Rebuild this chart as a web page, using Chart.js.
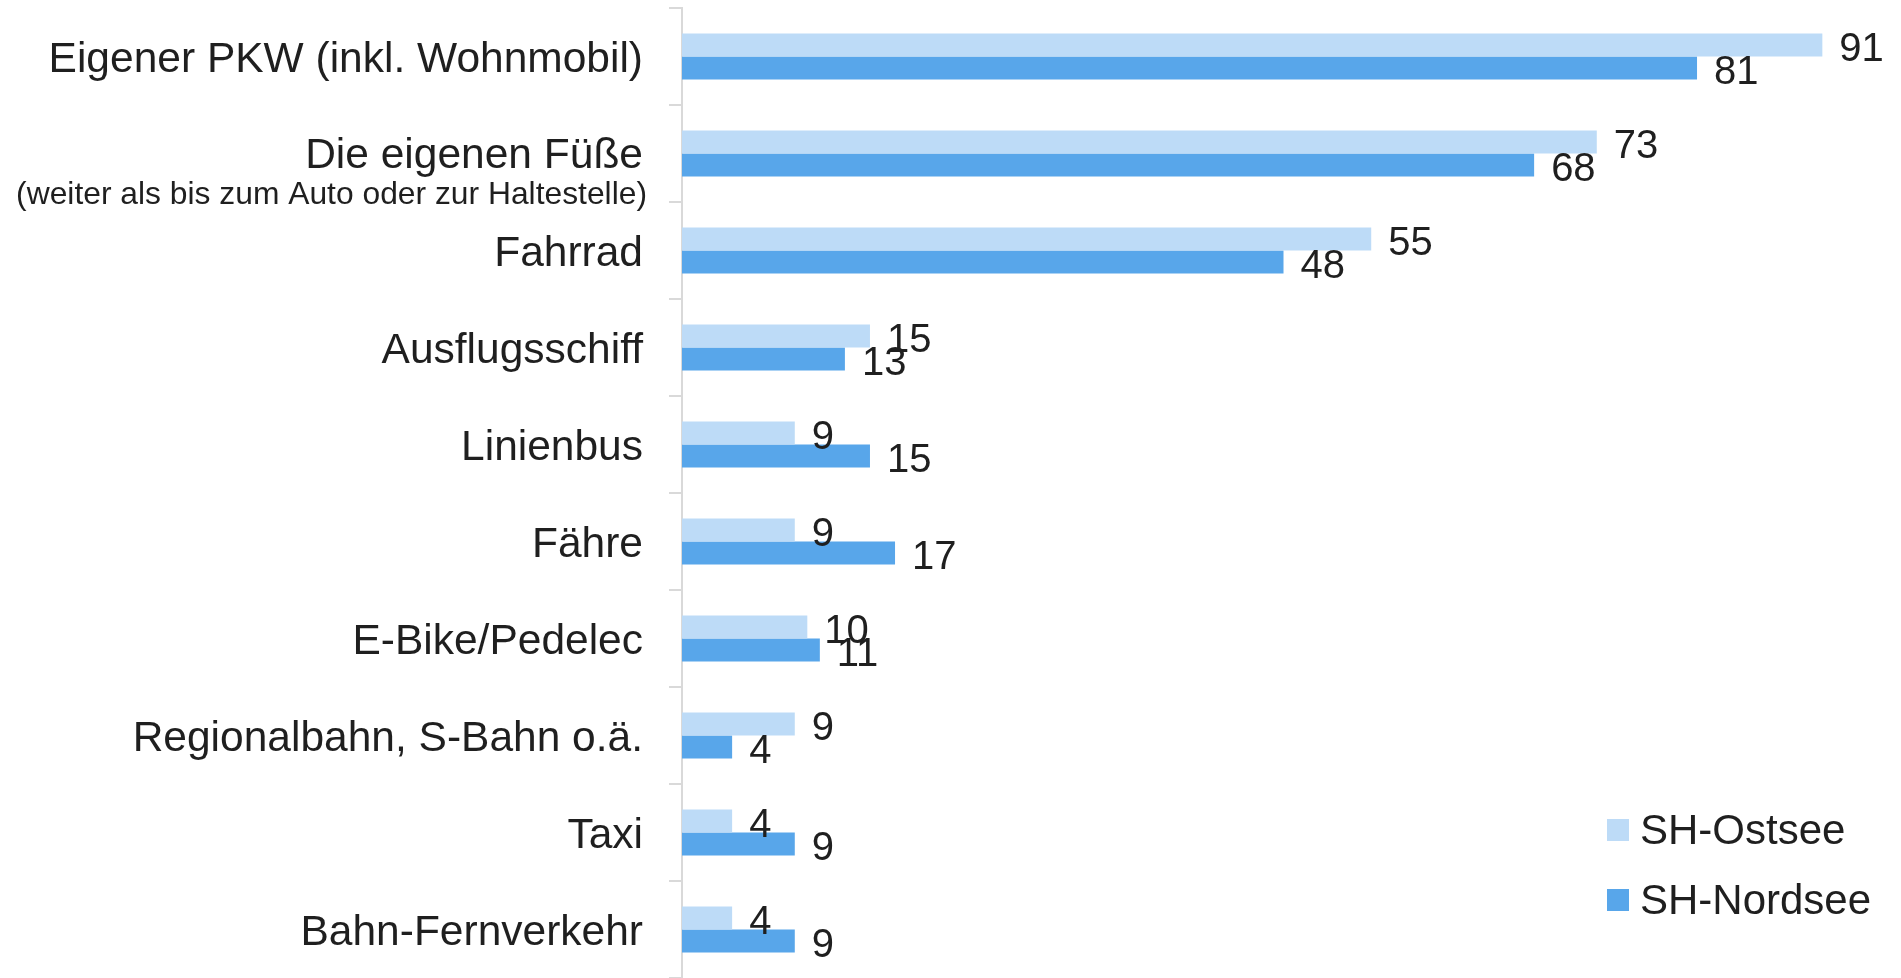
<!DOCTYPE html>
<html lang="de">
<head>
<meta charset="utf-8">
<title>Verkehrsmittel vor Ort</title>
<script src="https://cdn.jsdelivr.net/npm/chart.js@4/dist/chart.umd.min.js"></script>
<style>
    body { margin: 0; background: #fff; }
    #wrap { position: relative; width: 1901px; height: 978px; }
    #legend {
        position: absolute;
        left: 1607px;
        top: 806px;
        font-family: 'Liberation Sans', Arial, sans-serif;
        font-size: 42px;
        color: #1f1f1f;
    }
    .legend-item { display: flex; align-items: center; height: 48px; margin-bottom: 22px; }
    .legend-box { width: 22px; height: 22px; margin-right: 11px; }
</style>
</head>
<body>
<div id="wrap">
    <canvas id="chart" width="1901" height="978"></canvas>
    <div id="legend"></div>
</div>
<script>
// Data
const categories = [
    'Eigener PKW (inkl. Wohnmobil)',
    'Die eigenen Füße',
    'Fahrrad',
    'Ausflugsschiff',
    'Linienbus',
    'Fähre',
    'E-Bike/Pedelec',
    'Regionalbahn, S-Bahn o.ä.',
    'Taxi',
    'Bahn-Fernverkehr'
];
const subLabelIndex = 1;
const subLabel = '(weiter als bis zum Auto oder zur Haltestelle)';
const seriesNames = ['SH-Ostsee', 'SH-Nordsee'];
const ostseeValues = [91, 73, 55, 15, 9, 9, 10, 9, 4, 4];
const nordseeValues = [81, 68, 48, 13, 15, 17, 11, 4, 9, 9];
const seriesColors = ['#bddbf7', '#58a6ea'];

const FONT = "'Liberation Sans', Arial, sans-serif";
const TEXT_COLOR = '#1f1f1f';

// Value labels at the end of each bar
const valueLabels = {
    id: 'valueLabels',
    afterDatasetsDraw(chart) {
        const ctx = chart.ctx;
        ctx.save();
        ctx.font = '40px ' + FONT;
        ctx.fillStyle = TEXT_COLOR;
        ctx.textAlign = 'left';
        ctx.textBaseline = 'middle';
        chart.data.datasets.forEach((ds, i) => {
            const meta = chart.getDatasetMeta(i);
            meta.data.forEach((bar, j) => {
                ctx.fillText(String(ds.data[j]), bar.x + 17, bar.y + 5);
            });
        });
        ctx.restore();
    }
};

// Two-line category label with smaller second line
const subLabelPlugin = {
    id: 'subLabel',
    afterDraw(chart) {
        const ctx = chart.ctx;
        const y = chart.scales.y.getPixelForValue(subLabelIndex);
        const x = chart.chartArea.left - 37;
        ctx.save();
        ctx.fillStyle = TEXT_COLOR;
        ctx.textAlign = 'right';
        ctx.textBaseline = 'alphabetic';
        ctx.font = '42.5px ' + FONT;
        ctx.fillText(categories[subLabelIndex], x - 2, y + 14);
        ctx.font = '31.8px ' + FONT;
        ctx.fillText(subLabel, x + 2, y + 50);
        ctx.restore();
    }
};

const ctx = document.getElementById('chart').getContext('2d');
const chart = new Chart(ctx, {
    type: 'bar',
    data: {
        labels: categories,
        datasets: [
            { label: seriesNames[0], data: ostseeValues, backgroundColor: seriesColors[0] },
            { label: seriesNames[1], data: nordseeValues, backgroundColor: seriesColors[1] }
        ]
    },
    options: {
        indexAxis: 'y',
        responsive: false,
        animation: false,
        layout: { padding: { top: 8, right: 16, bottom: 0, left: 0 } },
        datasets: {
            bar: { categoryPercentage: 0.474, barPercentage: 1 }
        },
        plugins: {
            legend: { display: false },
            tooltip: { enabled: false }
        },
        scales: {
            x: {
                display: false,
                min: 0,
                max: 96
            },
            y: {
                afterFit(scale) {
                    scale.width = 682;
                    scale.paddingTop = 0;
                    scale.paddingBottom = 0;
                },
                border: { display: true, color: '#d9d9d9', width: 2 },
                grid: {
                    drawOnChartArea: false,
                    drawTicks: true,
                    tickLength: 13,
                    color: '#d9d9d9',
                    lineWidth: 2
                },
                ticks: {
                    padding: 26,
                    labelOffset: 4,
                    color: TEXT_COLOR,
                    font: { family: FONT, size: 42.5 },
                    callback: function(value, index) {
                        return index === subLabelIndex ? '' : categories[index];
                    }
                }
            }
        }
    },
    plugins: [valueLabels, subLabelPlugin]
});

// HTML legend
const legendEl = document.getElementById('legend');
seriesNames.forEach((name, i) => {
    legendEl.innerHTML += `
        <div class="legend-item">
            <div class="legend-box" style="background:${seriesColors[i]}"></div>
            <span>${name}</span>
        </div>`;
});
</script>
</body>
</html>
